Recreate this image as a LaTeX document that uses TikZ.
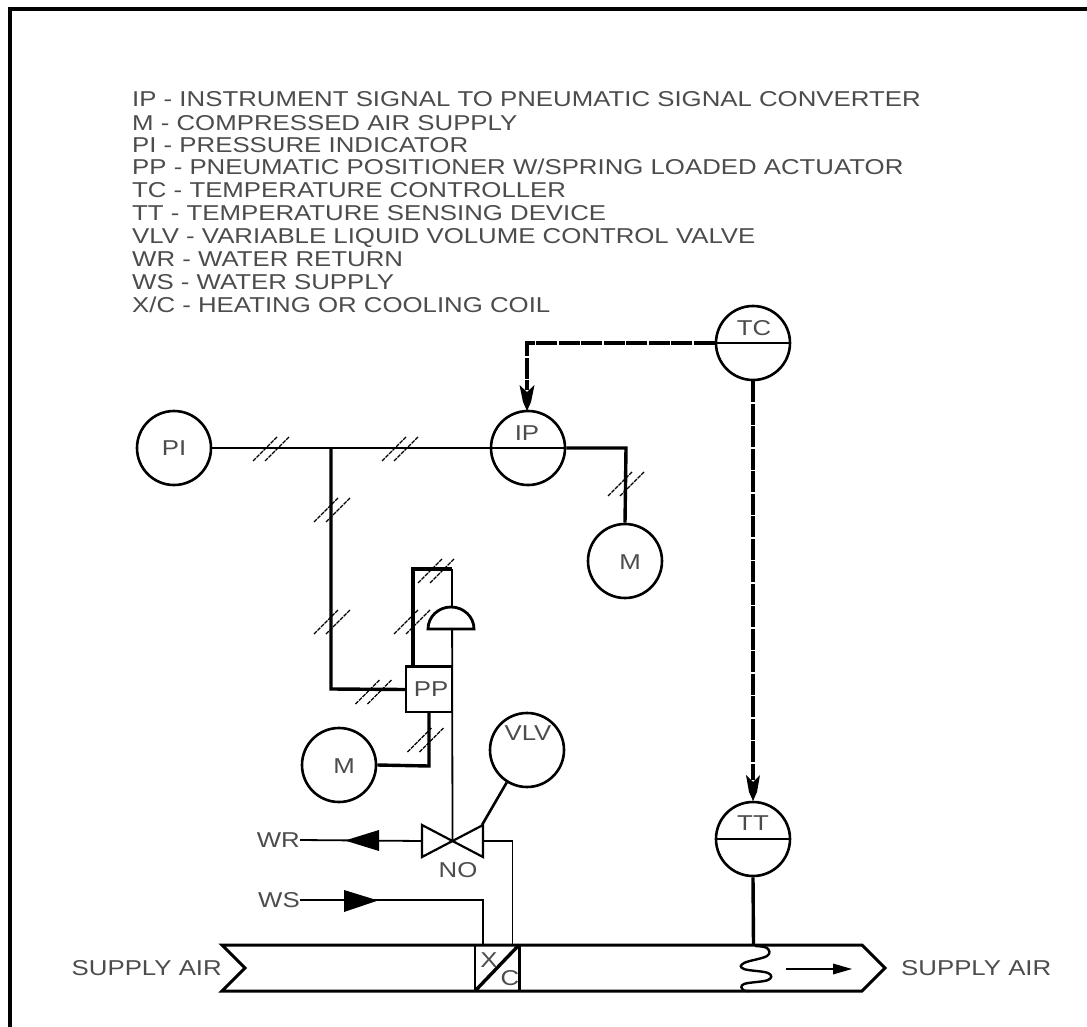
\documentclass[tikz,border=0pt]{standalone}
\usepackage{fontspec}
\setmainfont[FakeStretch=1.2]{Liberation Sans}
\definecolor{txt}{gray}{0.3}
\tikzset{
  thinl/.style={line width=1.8pt,black},
  thickl/.style={line width=3.4pt,black},
  inst/.style={circle,draw=black,line width=2.6pt,minimum size=74pt,inner sep=0pt},
  lab/.style={text=txt,font=\fontsize{21.5}{21.5}\selectfont,inner sep=0pt},
  leg/.style={text=txt,font=\fontsize{21.5}{21.5}\selectfont,inner sep=0pt,anchor=base west},
  tickl/.style={line width=1.3pt,black,dash pattern=on 4pt off 1pt},
  ductl/.style={line width=3pt,black,line join=miter},
  sigl/.style={line width=3.6pt,black,dash pattern=on 21pt off 1.5pt}
}
\newcommand{\ticks}[2]{%
  \draw[tickl] (#1-18,#2+12) -- (#1+6,#2-12);
  \draw[tickl] (#1-6,#2+12) -- (#1+18,#2-12);}
\begin{document}
\begin{tikzpicture}[x=1pt,y=-1pt]
\useasboundingbox (0,0) rectangle (1087,1027);
\fill[white] (0,0) rectangle (1087,1027);
\draw[line width=4pt] (9.5,1027) -- (9.5,9) -- (1087,9);

% legend
\node[leg] (l1) at (132,106.5) {IP - INSTRUMENT SIGNAL TO PNEUMATIC SIGNAL CONVERTER};
\node[leg] (l2) at (132,130.5) {M - COMPRESSED AIR SUPPLY};
\node[leg] (l3) at (132,152.5) {PI - PRESSURE INDICATOR};
\node[leg] (l4) at (132,175) {PP - PNEUMATIC POSITIONER W/SPRING LOADED ACTUATOR};
\node[leg] (l5) at (132,197.5) {TC - TEMPERATURE CONTROLLER};
\node[leg] (l6) at (132,220.5) {TT - TEMPERATURE SENSING DEVICE};
\node[leg] (l7) at (132,243.5) {VLV - VARIABLE LIQUID VOLUME CONTROL VALVE};
\node[leg] (l8) at (132,266.5) {WR - WATER RETURN};
\node[leg] (l9) at (132,289.5) {WS - WATER SUPPLY};
\node[leg] (l10) at (132,312.5) {X/C - HEATING OR COOLING COIL};

% instruments
\node[inst] (PI) at (174,448) {};
\node[inst] (IP) at (528,448) {};
\node[inst] (TC) at (753,343) {};
\node[inst] (MA) at (625,561) {};
\node[inst] (MB) at (339,765) {};
\node[inst] (VLV) at (527,750) {};
\node[inst] (TT) at (753,839) {};
\node[lab] (tPI) at (174,448) {PI};
\node[lab] (tIP) at (527,433) {IP};
\node[lab] (tTC) at (754,328) {TC};
\node[lab] (tMA) at (630,562) {M};
\node[lab] (tMB) at (344,766) {M};
\node[lab] (tVLV) at (528,733) {VLV};
\node[lab] (tTT) at (753,823) {TT};
\draw[line width=2pt] (IP.west) -- (IP.east);
\draw[line width=2.6pt] (TT.west) -- (TT.east);

% PP box
\node[draw=black,line width=1.5pt,minimum width=46pt,minimum height=45pt,inner sep=0pt] (PP) at (429,689.5) {};
\node[lab] (tPP) at (431,689) {PP};
\draw[thickl] (PP.north west) -- (PP.north east);

% pressure lines
\coordinate (j1) at (331,448);
\coordinate (j2) at (331,689);
\coordinate (r1) at (626,448);
\coordinate (top1) at (413,569);
\coordinate (top1b) at (413,667);
\coordinate (top2) at (452,569);
\coordinate (vc) at (452.5,841);
\coordinate (b0) at (429,712);
\coordinate (b1) at (429,766);
\draw[thinl] (PI) -- (IP);
\draw[thickl] (j1) -- (j2) -- (PP.west);
\draw[thickl] (IP.east) -- (r1) -- (MA.north);
\draw[thickl] (top1b) -- (top1) -- (top2);
\draw[thinl] (top2) -- (vc);
\draw[thickl] (b0) -- (b1) -- (MB.east);
\ticks{271}{449}\ticks{400}{449}
\ticks{332}{510}\ticks{332}{622}
\ticks{412}{622}\ticks{436}{571}
\ticks{373.5}{692}\ticks{425.5}{740}
\ticks{626}{484}

% actuator
\coordinate (acl) at (428,629);
\draw[line width=2.8pt,fill=white] (acl) -- (474,629) arc[start angle=0,end angle=-180,x radius=23,y radius=22] -- cycle;

% signal lines
\coordinate (s1) at (527,343);
\coordinate (s2) at (527,390);
\coordinate (s3) at (753,780);
\draw[sigl] (TC.west) -- (s1) -- (s2);
\draw[sigl] (TC.south) -- (s3);
\fill (519.5,385) -- (527,392) -- (534.5,385) -- (531,402) -- (527,411) -- (523,402) -- cycle;
\fill (746,775) -- (753,782) -- (760,775) -- (757,792) -- (753,801) -- (749,792) -- cycle;
\draw[line width=2.6pt] (TC.west) -- (TC.east);

% valve
\coordinate (vl) at (422,841);
\coordinate (vr) at (483,841);
\draw[line width=2.2pt,line join=miter] (422,825) -- (483,857) -- (483,825) -- (422,857) -- cycle;
\coordinate (vlv1) at (482,825);
\draw[line width=2.6pt] (VLV.238) -- (vlv1);
\node[lab] (tNO) at (458,870) {NO};

% water lines
\node[lab,anchor=east] (WR) at (300,840) {WR};
\node[lab,anchor=east] (WS) at (300,900) {WS};
\coordinate (wsc) at (483,900);
\coordinate (wsd) at (483,945);
\coordinate (wrc) at (512.5,841);
\coordinate (wrd) at (512.5,945);
\draw[thinl] (WR.east) -- (vl);
\draw[thinl] (WS.east) -- (wsc) -- (wsd);
\draw[thinl] (vr) -- (wrc) -- (wrd);
\fill (345,840.5) -- (379,830) -- (379,851) -- cycle;
\fill (378,900.5) -- (344,890) -- (344,912) -- cycle;

% duct
\draw[ductl] (222,945) -- (862,945) -- (885,968) -- (862,991) -- (222,991) -- (245,968) -- cycle;
\draw[thinl] (475,945) -- (475,991);
\draw[thickl] (519.5,945) -- (519.5,991);
\draw[thickl] (475,991) -- (518,946);
\node[lab] (tX) at (489,960) {X};
\node[lab] (tC) at (510,978) {C};

% sensor
\coordinate (sensor) at (753.5,945);
\draw[thickl] (TT.south) -- (sensor);
\draw[line width=2.4pt] plot[smooth,tension=0.65] coordinates {(755,946) (767,948) (767,956) (744,963) (744,969) (768,973) (768,980) (744,984) (743,990) (750,991)};

% flow arrow
\coordinate (fa) at (786,969);
\coordinate (fb) at (838,969);
\draw[thinl] (fa) -- (fb);
\fill (833,963.5) -- (852,969) -- (833,974.5) -- cycle;

\node[lab,anchor=east] (sa1) at (222,968) {SUPPLY AIR};
\node[lab,anchor=west] (sa2) at (901,968) {SUPPLY AIR};
\end{tikzpicture}
\end{document}
